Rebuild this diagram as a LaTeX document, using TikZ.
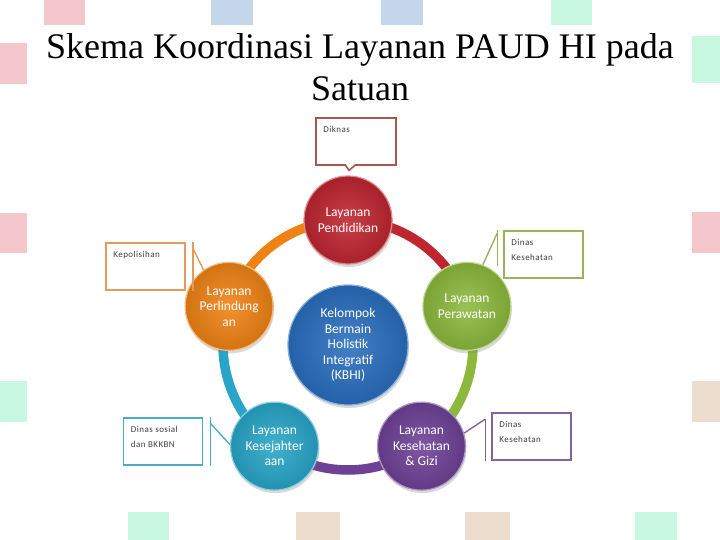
\documentclass[tikz,border=0pt]{standalone}
\usepackage{fontspec}
\setmainfont{Liberation Serif}
\newfontfamily\calfont{Carlito}
\newfontfamily\notefont[LetterSpace=5]{Carlito}
\usepackage{tikz}
\usetikzlibrary{shapes,shapes.callouts,shadows,calc}

\definecolor{pinkbg}{RGB}{243,199,204}
\definecolor{bluebg}{RGB}{196,215,234}
\definecolor{greenbg}{RGB}{200,248,226}
\definecolor{tanbg}{RGB}{236,221,206}
\definecolor{didikc}{RGB}{191,38,48}
\definecolor{rawatc}{RGB}{140,185,60}
\definecolor{gizic}{RGB}{110,65,150}
\definecolor{sejahc}{RGB}{40,165,200}
\definecolor{lindungc}{RGB}{240,130,20}
\definecolor{kbhic}{RGB}{42,110,190}
\definecolor{diknasc}{RGB}{172,84,80}
\definecolor{polisic}{RGB}{229,154,92}
\definecolor{dinkesc}{RGB}{152,180,90}
\definecolor{dinkesb}{RGB}{128,100,162}
\definecolor{sosialc}{RGB}{75,172,198}

\begin{document}
\begin{tikzpicture}[x=1bp,y=-1bp,
  layanan/.style={circle, minimum size=88bp, inner sep=0pt, align=center, text=white,
    font=\calfont\fontsize{13.5bp}{15.5bp}\selectfont,
    draw=#1!55!white, line width=1.2bp,
    inner color=#1!88!white, outer color=#1!88!black,
    drop shadow={opacity=0.3, shadow xshift=1bp, shadow yshift=-3bp}},
  ring/.style={line width=9.5bp, draw=#1},
  note/.style={draw=#1, line width=1.6bp, fill=white, minimum width=79bp,
    minimum height=47bp, inner sep=0pt},
  notetext/.style={anchor=north west, xshift=6bp, yshift=-7bp, inner sep=2bp,
    align=left, text=black!75, font=\notefont\fontsize{9bp}{15bp}\selectfont},
  leader/.style={draw=#1, line width=1.4bp}
]
\useasboundingbox (0,0) rectangle (720,540);

% pale squares round the edge
\fill[pinkbg] (44,0) rectangle (85,25);
\fill[bluebg] (211,0) rectangle (253,25);
\fill[bluebg] (381,0) rectangle (423,25);
\fill[greenbg] (551,0) rectangle (592,25);
\fill[pinkbg] (0,43) rectangle (27,84);
\fill[pinkbg] (0,213) rectangle (27,253);
\fill[greenbg] (0,381) rectangle (27,422);
\fill[greenbg] (692,36) rectangle (720,83);
\fill[pinkbg] (692,212) rectangle (720,253);
\fill[tanbg] (692,381) rectangle (720,422);
\fill[greenbg] (128,512) rectangle (169,540);
\fill[tanbg] (296,512) rectangle (340,540);
\fill[tanbg] (465,512) rectangle (510,540);
\fill[greenbg] (635,512) rectangle (677,540);

% title
\node[anchor=north, align=center, inner sep=0pt,
  font=\fontsize{36bp}{42bp}\selectfont] (judul) at (360,33)
  {Skema Koordinasi Layanan PAUD HI pada\\Satuan};

% ring
\coordinate (C) at (348,345);
\draw[ring=didikc] ([shift={(-90:125)}]C) arc[start angle=-90, end angle=-18, radius=125];
\draw[ring=rawatc] ([shift={(-18:125)}]C) arc[start angle=-18, end angle=54, radius=125];
\draw[ring=gizic] ([shift={(54:125)}]C) arc[start angle=54, end angle=126, radius=125];
\draw[ring=sejahc] ([shift={(126:125)}]C) arc[start angle=126, end angle=198, radius=125];
\draw[ring=lindungc] ([shift={(198:125)}]C) arc[start angle=198, end angle=270, radius=125];

% services
\node[layanan=kbhic, minimum size=120bp] (kbhi) at (C)
  {Kelompok\\Bermain\\Holistik\\Integratif\\(KBHI)};
\node[layanan=didikc] (didik) at ([shift={(-90:125)}]C) {Layanan\\Pendidikan};
\node[layanan=rawatc] (rawat) at ([shift={(-18:125)}]C) {Layanan\\Perawatan};
\node[layanan=gizic] (gizi) at ([shift={(54:125)}]C) {Layanan\\Kesehatan\\\& Gizi};
\node[layanan=sejahc] (sejah) at ([shift={(126:125)}]C) {Layanan\\Kesejahter\\aan};
\node[layanan=lindungc] (lindung) at ([shift={(198:125)}]C) {Layanan\\Perlindung\\an};

% offices
\node[rectangle callout, note=diknasc, minimum width=80bp,
  callout absolute pointer={([xshift=1bp,yshift=5bp]didik.north)}, callout pointer width=10bp,
  label={[notetext]north west:Diknas}] (diknas) at (356,141.5) {};

\node[note=polisic, label={[notetext]north west:Kepolisihan}] (polisi) at (145.5,266.5) {};
\draw[leader=polisic] ([xshift=7bp]polisi.north east) -- ([xshift=7bp]polisi.south east);
\draw[leader=polisic] ([xshift=7bp,yshift=-6bp]polisi.north east) -- (lindung.125);

\node[note=dinkesc, label={[notetext]north west:{Dinas\\Kesehatan}}] (dinkes) at (543.5,254.5) {};
\draw[leader=dinkesc] ([xshift=-6bp]dinkes.north west) -- ([xshift=-6bp,yshift=13bp]dinkes.south west);
\draw[leader=dinkesc] ([xshift=-6bp,yshift=-3bp]dinkes.north west) -- (rawat.69);

\node[note=dinkesb, label={[notetext]north west:{Dinas\\Kesehatan}}] (dinkes2) at (531.5,436.5) {};
\draw[leader=dinkesb] ([xshift=-6bp,yshift=-7bp]dinkes2.north west) -- ([xshift=-6bp]dinkes2.south west);
\draw[leader=dinkesb] ([xshift=-6bp,yshift=-7bp]dinkes2.north west) -- (gizi.17);

\node[note=sosialc, label={[notetext]north west:{Dinas sosial\\dan BKKBN}}] (sosial) at (163,441.5) {};
\draw[leader=sosialc] ([xshift=7bp]sosial.north east) -- ([xshift=7bp]sosial.south east);
\draw[leader=sosialc] ([xshift=7bp,yshift=-6bp]sosial.north east) -- (sejah.178);
\end{tikzpicture}
\end{document}
